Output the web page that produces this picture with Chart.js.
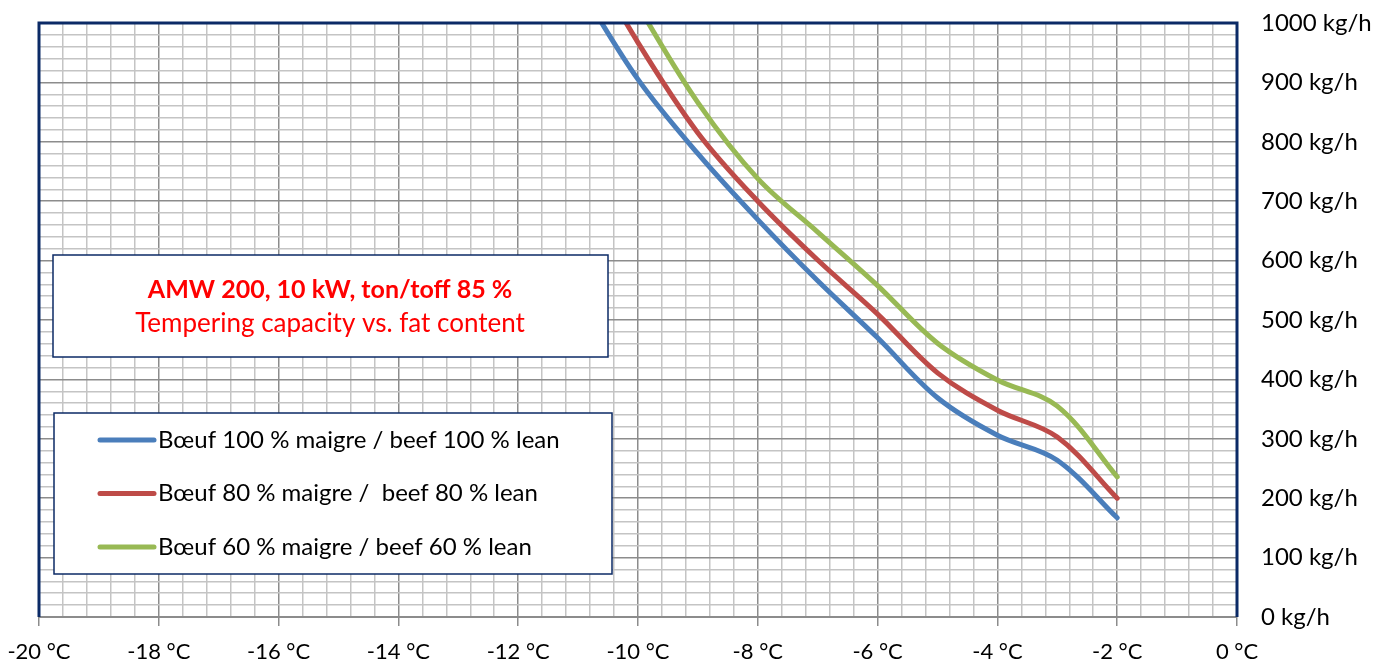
<!DOCTYPE html>
<html>
<head>
<meta charset="utf-8">
<title>AMW 200 tempering capacity</title>
<script src="https://cdn.jsdelivr.net/npm/chart.js@4.4.1/dist/chart.umd.min.js"></script>
<style>
    html, body { margin: 0; padding: 0; background: #ffffff; }
    #chartBox { width: 1385px; height: 666px; }
</style>
</head>
<body>
<div id="chartBox"><canvas id="capacityChart" width="1385" height="666"></canvas></div>
<script>
// temperatures (°C) the curves were measured at
const temperatures = [-11, -10, -9, -8, -7, -6, -5, -4, -3, -2];

// capacity in kg/h per fat content
const lean100 = [1065, 905, 780, 669, 566, 470, 369, 306, 264, 167];
const lean80 = [1142, 967, 815, 700, 601, 510, 411, 348, 303, 200];
const lean60 = [1199, 1029, 866, 738, 648, 558, 461, 399, 355, 236];

const seriesLabels = [
    'Bœuf 100 % maigre / beef 100 % lean',
    'Bœuf 80 % maigre /  beef 80 % lean',
    'Bœuf 60 % maigre / beef 60 % lean'
];
const seriesColors = ['#4a7ebb', '#be4b48', '#98b954'];

const titleLines = ['AMW 200, 10 kW, ton/toff 85 %', 'Tempering capacity vs. fat content'];

const xMin = -20, xMax = 0, xMajor = 2, xMinor = 0.4;
const yMin = 0, yMax = 1000, yMajor = 100, yMinor = 20;

const fontFamily = 'Lato, "Noto Sans", sans-serif';
const navy = '#0b2a66';
const majorGrid = '#8c8c8c';
const minorGrid = '#c4c4c4';

function isMajor(value, step) {
    const r = value / step;
    return Math.abs(r - Math.round(r)) < 1e-6;
}

function toPoints(values) {
    return values.map((v, i) => ({ x: temperatures[i], y: v }));
}

// keep the plot area fixed: no extra room for label overhang
function fixScale(scale, size) {
    if (scale.isHorizontal()) {
        scale.height = size;
    } else {
        scale.width = size;
    }
    scale.paddingTop = 0;
    scale.paddingBottom = 0;
    scale.paddingLeft = 0;
    scale.paddingRight = 0;
}

const datasets = [lean100, lean80, lean60].map((values, i) => ({
    label: seriesLabels[i],
    data: toPoints(values),
    borderColor: seriesColors[i],
    backgroundColor: seriesColors[i],
    borderWidth: 5,
    borderCapStyle: 'round',
    pointRadius: 0,
    tension: 0.35,
    clip: 0,
}));

// frame, title box and legend box drawn on top of the grid
const overlayPlugin = {
    id: 'overlay',
    afterDraw(chart) {
        const ctx = chart.ctx;
        const area = chart.chartArea;
        ctx.save();

        // navy frame (left, top, right)
        ctx.strokeStyle = navy;
        ctx.lineWidth = 3;
        ctx.beginPath();
        ctx.moveTo(area.left, area.bottom);
        ctx.lineTo(area.left, area.top);
        ctx.lineTo(area.right, area.top);
        ctx.lineTo(area.right, area.bottom);
        ctx.stroke();

        // title box
        ctx.fillStyle = '#ffffff';
        ctx.fillRect(53, 255, 555, 102);
        ctx.lineWidth = 1.5;
        ctx.strokeRect(53, 255, 555, 102);
        ctx.fillStyle = '#ff0000';
        ctx.textAlign = 'center';
        ctx.textBaseline = 'middle';
        ctx.font = 'bold 25px ' + fontFamily;
        ctx.fillText(titleLines[0], 330, 290);
        ctx.font = '26px ' + fontFamily;
        ctx.fillText(titleLines[1], 330, 324);

        // legend box
        ctx.fillStyle = '#ffffff';
        ctx.fillRect(54, 413, 558, 161);
        ctx.strokeRect(54, 413, 558, 161);
        ctx.textAlign = 'left';
        ctx.font = '24px ' + fontFamily;
        chart.data.datasets.forEach((ds, i) => {
            const y = 440 + i * 53.5;
            ctx.strokeStyle = ds.borderColor;
            ctx.lineWidth = 5;
            ctx.lineCap = 'round';
            ctx.beginPath();
            ctx.moveTo(100, y);
            ctx.lineTo(154, y);
            ctx.stroke();
            ctx.fillStyle = '#000000';
            ctx.fillText(ds.label, 158, y);
        });
        ctx.restore();
    }
};

const ctx = document.getElementById('capacityChart').getContext('2d');
new Chart(ctx, {
    type: 'line',
    data: { datasets: datasets },
    options: {
        responsive: false,
        animation: false,
        layout: { padding: { left: 39, top: 23, right: 0, bottom: 0 } },
        plugins: {
            legend: { display: false },
            tooltip: { enabled: false },
        },
        scales: {
            x: {
                type: 'linear',
                position: 'bottom',
                min: xMin,
                max: xMax,
                afterFit: (scale) => fixScale(scale, 49),
                border: { display: true, color: majorGrid, width: 2 },
                grid: {
                    color: (c) => isMajor(c.tick.value, xMajor) ? majorGrid : minorGrid,
                    tickColor: (c) => isMajor(c.tick.value, xMajor) ? majorGrid : 'rgba(0,0,0,0)',
                    lineWidth: 1.5,
                    tickLength: 9,
                },
                ticks: {
                    stepSize: xMinor,
                    autoSkip: false,
                    maxRotation: 0,
                    padding: 13,
                    color: '#000000',
                    font: { family: fontFamily, size: 22 },
                    callback: (v) => isMajor(v, xMajor) ? Math.round(v) + ' °C' : '',
                },
            },
            y: {
                type: 'linear',
                position: 'right',
                min: yMin,
                max: yMax,
                afterFit: (scale) => fixScale(scale, 148),
                border: { display: false },
                grid: {
                    color: (c) => isMajor(c.tick.value, yMajor) ? majorGrid : minorGrid,
                    lineWidth: 1.5,
                    drawTicks: false,
                },
                ticks: {
                    stepSize: yMinor,
                    autoSkip: false,
                    padding: 24,
                    color: '#000000',
                    font: { family: fontFamily, size: 24 },
                    callback: (v) => isMajor(v, yMajor) ? Math.round(v) + ' kg/h' : '',
                },
            },
        },
    },
    plugins: [overlayPlugin],
});
</script>
</body>
</html>
